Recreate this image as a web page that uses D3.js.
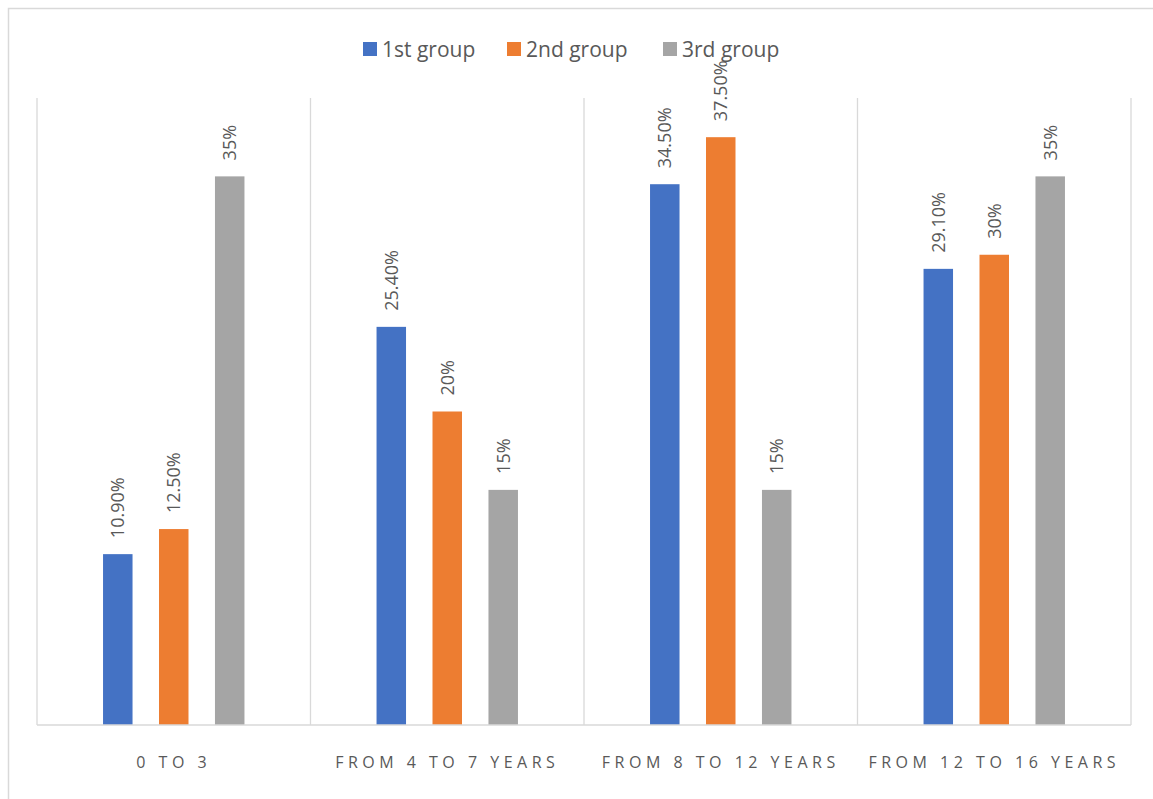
<!DOCTYPE html>
<html>
<head>
<meta charset="utf-8">
<script src="https://cdn.jsdelivr.net/npm/d3@7"></script>
<style>
  html, body { margin: 0; padding: 0; background: #fff; }
  svg { display: block; }
  text { font-family: "Open Sans", Lato, sans-serif; fill: #595959; }
</style>
</head>
<body>
<svg id="chart" width="1153" height="799"></svg>
<script>
const categories = ["0 TO 3", "FROM 4 TO 7 YEARS", "FROM 8 TO 12 YEARS", "FROM 12 TO 16 YEARS"];
const seriesNames = ["1st group", "2nd group", "3rd group"];
const group1 = [0.109, 0.254, 0.345, 0.291];
const group2 = [0.125, 0.20, 0.375, 0.30];
const group3 = [0.35, 0.15, 0.15, 0.35];
const labels1 = ["10.90%", "25.40%", "34.50%", "29.10%"];
const labels2 = ["12.50%", "20%", "37.50%", "30%"];
const labels3 = ["35%", "15%", "15%", "35%"];
const colors = ["#4472C4", "#ED7D31", "#A5A5A5"];

const seriesValues = [group1, group2, group3];
const seriesLabels = [labels1, labels2, labels3];

const svg = d3.select("#chart");
const W = 1153, H = 799;
const plot = { left: 37, right: 1131, top: 98, bottom: 725 };

svg.append("rect")
  .attr("x", 8.5).attr("y", 8.5)
  .attr("width", W + 10).attr("height", H + 10)
  .attr("fill", "none").attr("stroke", "#d9d9d9").attr("stroke-width", 1.5);

const x0 = d3.scaleBand().domain(categories).range([plot.left, plot.right]).padding(0);
const x1 = d3.scaleBand().domain(d3.range(3)).range([0, x0.bandwidth()]).paddingInner(0.473).paddingOuter(1.18);
const y = d3.scaleLinear().domain([0, 0.40]).range([plot.bottom, plot.top]);

const bounds = categories.map(c => x0(c)).concat([plot.right]);
svg.append("g").selectAll("line").data(bounds).join("line")
  .attr("x1", d => d).attr("x2", d => d)
  .attr("y1", plot.top).attr("y2", plot.bottom)
  .attr("stroke", "#d9d9d9").attr("stroke-width", 1.3);

const data = [];
categories.forEach((c, i) => {
  seriesValues.forEach((vals, s) => {
    data.push({ cat: c, s: s, v: vals[i], label: seriesLabels[s][i] });
  });
});

svg.append("g").selectAll("rect").data(data).join("rect")
  .attr("x", d => x0(d.cat) + x1(d.s))
  .attr("y", d => y(d.v))
  .attr("width", x1.bandwidth())
  .attr("height", d => y(0) - y(d.v))
  .attr("fill", d => colors[d.s]);

svg.append("line")
  .attr("x1", plot.left).attr("x2", plot.right)
  .attr("y1", plot.bottom).attr("y2", plot.bottom)
  .attr("stroke", "#d9d9d9").attr("stroke-width", 1.3);

svg.append("g").selectAll("text").data(data).join("text")
  .attr("transform", d => {
    const cx = x0(d.cat) + x1(d.s) + x1.bandwidth() / 2;
    return `translate(${cx},${y(d.v) - 16}) rotate(-90)`;
  })
  .attr("dy", "0.36em")
  .attr("text-anchor", "start")
  .attr("font-size", 18)
  .text(d => d.label);

const xAxis = d3.axisBottom(x0).tickSize(0).tickPadding(0);
const ax = svg.append("g").attr("transform", `translate(0,${plot.bottom})`).call(xAxis);
ax.select(".domain").remove();
ax.selectAll("text")
  .attr("y", 43)
  .attr("dy", 0)
  .attr("font-size", 16)
  .attr("letter-spacing", "4.5px")
  .style("font-family", "'Open Sans', Lato, sans-serif")
  .style("fill", "#595959");

const legendX = [363, 507, 663];
const lg = svg.append("g").selectAll("g").data(seriesNames).join("g")
  .attr("transform", (d, i) => `translate(${legendX[i]},42)`);
lg.append("rect").attr("width", 14).attr("height", 14).attr("fill", (d, i) => colors[i]);
lg.append("text").attr("x", 19).attr("y", 14.5).attr("font-size", 21).text(d => d);
</script>
</body>
</html>
